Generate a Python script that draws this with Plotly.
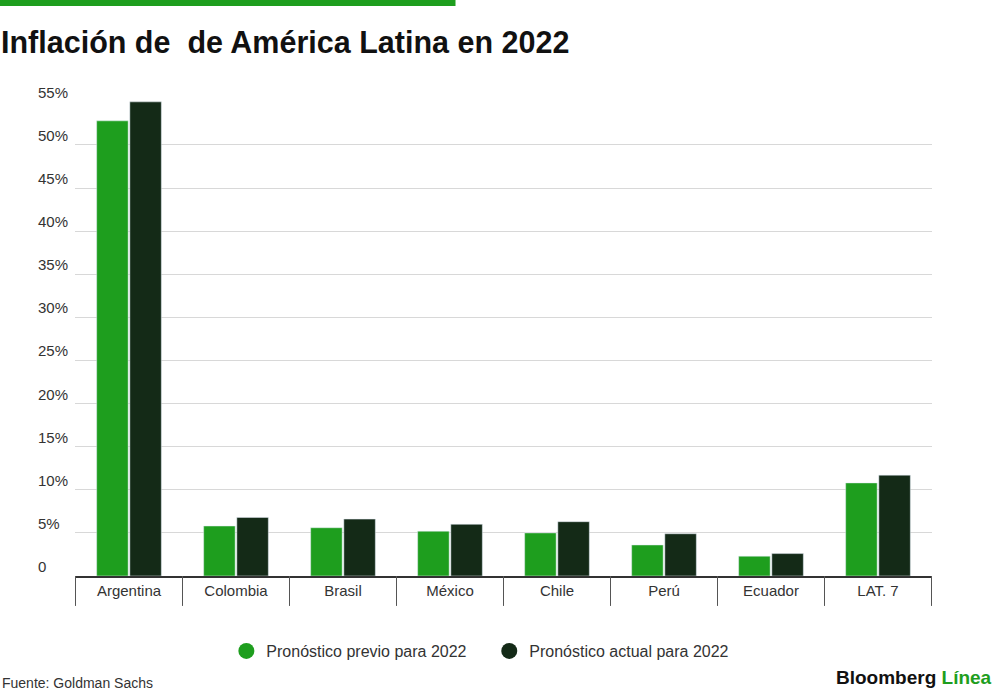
import plotly.graph_objects as go

countries = ["Argentina", "Colombia", "Brasil", "México", "Chile", "Perú", "Ecuador", "LAT. 7"]
previo = [52.8, 5.8, 5.6, 5.2, 5.0, 3.6, 2.3, 10.8]
actual = [55.0, 6.8, 6.6, 6.0, 6.3, 4.9, 2.6, 11.7]
ticks = [0, 5, 10, 15, 20, 25, 30, 35, 40, 45, 50, 55]

GREEN = "#1e9e1e"
DARK = "#142a17"
FONT = "Liberation Sans"

fig = go.Figure()
fig.add_trace(go.Bar(x=countries, y=previo, marker_color=GREEN, showlegend=False))
fig.add_trace(go.Bar(x=countries, y=actual, marker_color=DARK, showlegend=False))
# legend entries with round markers
fig.add_trace(go.Scatter(x=[None], y=[None], mode="markers", name="Pronóstico previo para 2022    ",
                         marker=dict(color=GREEN, size=21, symbol="circle")))
fig.add_trace(go.Scatter(x=[None], y=[None], mode="markers", name="Pronóstico actual para 2022",
                         marker=dict(color=DARK, size=21, symbol="circle")))

fig.update_layout(
    width=1000, height=696,
    margin=dict(l=75, r=68, t=101, b=120),
    paper_bgcolor="white", plot_bgcolor="white",
    font=dict(family=FONT, color="#333333", size=15),
    barmode="group", bargap=0.38, bargroupgap=0.05,
    legend=dict(orientation="h", x=0.473, xanchor="center", y=-0.158, yanchor="middle",
                font=dict(size=16, color="#333333"), itemsizing="trace"),
)
fig.update_xaxes(showgrid=False, showline=True, linecolor="#333333", linewidth=1.5,
                 ticks="", tickfont=dict(size=15, color="#333333"), ticklabelstandoff=0)
fig.update_yaxes(range=[0, 55.1], tickvals=ticks, showticklabels=False,
                 gridcolor="#d8d8d8", gridwidth=1, zeroline=False, fixedrange=True)

for t in ticks:
    fig.add_annotation(x=-0.046, xref="paper", y=t, yref="y", text="0" if t == 0 else f"{t}%",
                       showarrow=False, xanchor="left", yanchor="bottom", yshift=-1,
                       font=dict(size=15, color="#333333"))

for i in range(len(countries) + 1):
    fig.add_shape(type="line", xref="x", yref="paper", x0=i - 0.5, x1=i - 0.5, y0=0, y1=-0.063,
                  line=dict(color="#555555", width=1))

fig.add_shape(type="rect", xref="paper", yref="paper", x0=-0.09, x1=0.444, y0=1.2, y1=1.216,
              line_width=0, fillcolor=GREEN)
fig.add_annotation(x=-0.089, xref="paper", y=1.124, yref="paper", text="<b>Inflación de  de América Latina en 2022</b>",
                   showarrow=False, xanchor="left", yanchor="middle",
                   font=dict(size=30.5, color="#111111"))
fig.add_annotation(x=-0.088, xref="paper", y=-0.226, yref="paper", text="Fuente: Goldman Sachs",
                   showarrow=False, xanchor="left", yanchor="middle", font=dict(size=14, color="#333333"))
fig.add_annotation(x=1.072, xref="paper", y=-0.213, yref="paper",
                   text="<b>Bloomberg <span style='color:#1e9e1e'>Línea</span></b>",
                   showarrow=False, xanchor="right", yanchor="middle", font=dict(size=19, color="#111111"))

fig.write_html("out.html", config={"displayModeBar": False},
               post_script="document.body.style.margin='0';")
